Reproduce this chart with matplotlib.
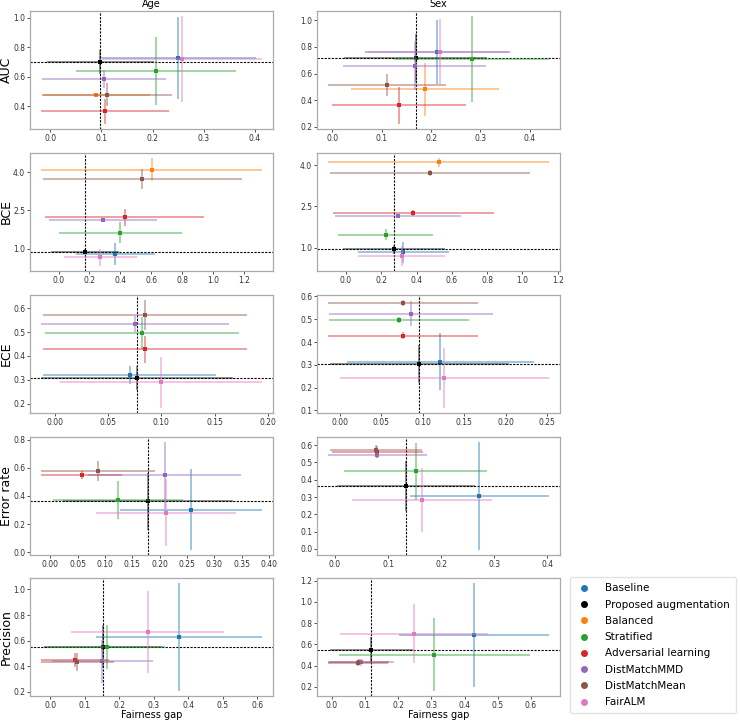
import numpy as np
import matplotlib
matplotlib.use("Agg")
import matplotlib.pyplot as plt
from matplotlib.colors import to_rgba
from matplotlib.lines import Line2D
from matplotlib.ticker import MultipleLocator, FormatStrFormatter

nan = np.nan

methods = ["Baseline", "Proposed augmentation", "Balanced", "Stratified",
           "Adversarial learning", "DistMatchMMD", "DistMatchMean", "FairALM"]
colors = ["tab:blue", "black", "tab:orange", "tab:green",
          "tab:red", "tab:purple", "tab:brown", "tab:pink"]
metrics = ["AUC", "BCE", "ECE", "Error rate", "Precision"]
attributes = ["Age", "Sex"]

# order of values follows `methods`
# gap = fairness gap (x), val = metric value (y)
auc_age_gap = [0.250, 0.098, 0.090, 0.207, 0.107, 0.105, 0.111, 0.258]
auc_age_gap_err = [0.153, 0.105, 0.105, 0.157, 0.125, 0.121, 0.128, 0.156]
auc_age_val = [0.727, 0.702, 0.480, 0.640, 0.367, 0.587, 0.480, 0.718]
auc_age_val_err = [0.280, 0.080, 0.010, 0.228, 0.083, 0.060, 0.080, 0.290]

auc_sex_gap = [0.211, 0.169, 0.188, 0.282, 0.135, 0.167, 0.111, 0.218]
auc_sex_gap_err = [0.146, 0.145, 0.150, 0.157, 0.136, 0.145, 0.120, 0.145]
auc_sex_val = [0.763, 0.714, 0.482, 0.709, 0.363, 0.654, 0.514, 0.765]
auc_sex_val_err = [0.238, 0.180, 0.200, 0.320, 0.138, 0.180, 0.085, 0.245]

bce_age_gap = [0.368, 0.171, 0.602, 0.400, 0.429, 0.286, 0.543, 0.270]
bce_age_gap_err = [0.254, 0.220, 0.715, 0.400, 0.515, 0.350, 0.645, 0.235]
bce_age_val = [0.78, 0.87, 4.09, 1.63, 2.23, 2.13, 3.73, 0.65]
bce_age_val_err = [0.42, 0.10, 0.45, 0.43, 0.34, 0.05, 0.41, 0.32]

bce_sex_gap = [0.324, 0.271, 0.524, 0.224, 0.381, 0.294, 0.476, 0.315]
bce_sex_gap_err = [0.257, 0.290, 0.626, 0.270, 0.455, 0.356, 0.569, 0.245]
bce_sex_val = [0.82, 0.93, 4.10, 1.47, 2.26, 2.14, 3.71, 0.70]
bce_sex_val_err = [0.37, 0.15, 0.15, 0.20, 0.12, 0.05, 0.10, 0.36]

ece_age_gap = [0.0703, 0.0770, nan, 0.0820, 0.0844, 0.0753, 0.0844, 0.0994]
ece_age_gap_err = [0.081, 0.090, nan, 0.091, 0.096, 0.088, 0.096, 0.095]
ece_age_val = [0.320, 0.307, nan, 0.497, 0.427, 0.534, 0.570, 0.290]
ece_age_val_err = [0.038, 0.050, nan, 0.066, 0.055, 0.035, 0.063, 0.107]

ece_sex_gap = [0.121, 0.096, nan, 0.0714, 0.0762, 0.0859, 0.0762, 0.126]
ece_sex_gap_err = [0.1125, 0.108, nan, 0.084, 0.090, 0.099, 0.090, 0.126]
ece_sex_val = [0.314, 0.304, nan, 0.497, 0.428, 0.524, 0.571, 0.242]
ece_sex_val_err = [0.125, 0.085, nan, 0.015, 0.015, 0.055, 0.012, 0.130]

err_age_gap = [0.257, 0.179, nan, 0.123, 0.057, 0.209, 0.087, 0.211]
err_age_gap_err = [0.130, 0.155, nan, 0.119, 0.074, 0.140, 0.104, 0.128]
err_age_val = [0.303, 0.360, nan, 0.370, 0.549, 0.545, 0.575, 0.281]
err_age_val_err = [0.285, 0.200, nan, 0.135, 0.030, 0.235, 0.071, 0.240]

err_sex_gap = [0.272, 0.133, nan, 0.152, 0.080, 0.080, 0.077, 0.164]
err_sex_gap_err = [0.131, 0.130, nan, 0.135, 0.085, 0.093, 0.086, 0.132]
err_sex_val = [0.306, 0.362, nan, 0.448, 0.558, 0.545, 0.571, 0.285]
err_sex_val_err = [0.310, 0.145, nan, 0.167, 0.035, 0.020, 0.030, 0.185]

prec_age_gap = [0.372, 0.153, nan, 0.163, 0.071, 0.150, 0.078, 0.282]
prec_age_gap_err = [0.241, 0.170, nan, 0.170, 0.098, 0.146, 0.105, 0.221]
prec_age_val = [0.628, 0.552, nan, 0.550, 0.445, 0.437, 0.432, 0.669]
prec_age_val_err = [0.420, 0.170, nan, 0.170, 0.055, 0.170, 0.070, 0.320]

prec_sex_gap = [0.429, 0.119, nan, 0.309, 0.081, 0.089, 0.079, 0.248]
prec_sex_gap_err = [0.225, 0.125, nan, 0.287, 0.090, 0.100, 0.090, 0.224]
prec_sex_val = [0.684, 0.545, nan, 0.504, 0.436, 0.430, 0.424, 0.699]
prec_sex_val_err = [0.490, 0.120, nan, 0.340, 0.030, 0.030, 0.030, 0.278]

panels = {
    ("AUC", "Age"): (auc_age_gap, auc_age_gap_err, auc_age_val, auc_age_val_err),
    ("AUC", "Sex"): (auc_sex_gap, auc_sex_gap_err, auc_sex_val, auc_sex_val_err),
    ("BCE", "Age"): (bce_age_gap, bce_age_gap_err, bce_age_val, bce_age_val_err),
    ("BCE", "Sex"): (bce_sex_gap, bce_sex_gap_err, bce_sex_val, bce_sex_val_err),
    ("ECE", "Age"): (ece_age_gap, ece_age_gap_err, ece_age_val, ece_age_val_err),
    ("ECE", "Sex"): (ece_sex_gap, ece_sex_gap_err, ece_sex_val, ece_sex_val_err),
    ("Error rate", "Age"): (err_age_gap, err_age_gap_err, err_age_val, err_age_val_err),
    ("Error rate", "Sex"): (err_sex_gap, err_sex_gap_err, err_sex_val, err_sex_val_err),
    ("Precision", "Age"): (prec_age_gap, prec_age_gap_err, prec_age_val, prec_age_val_err),
    ("Precision", "Sex"): (prec_sex_gap, prec_sex_gap_err, prec_sex_val, prec_sex_val_err),
}

# tick spacing per panel: (x step, y step)
tick_steps = {
    ("AUC", "Age"): (0.1, 0.2), ("AUC", "Sex"): (0.1, 0.2),
    ("BCE", "Age"): (0.2, 1.5), ("BCE", "Sex"): (0.2, 1.5),
    ("ECE", "Age"): (0.05, 0.1), ("ECE", "Sex"): (0.05, 0.1),
    ("Error rate", "Age"): (0.05, 0.2), ("Error rate", "Sex"): (0.1, 0.1),
    ("Precision", "Age"): (0.1, 0.2), ("Precision", "Sex"): (0.1, 0.2),
}

W, H = 740, 721
fig = plt.figure(figsize=(W / 100, H / 100), dpi=100)

col_left = [30, 317]
col_width = 243
row_top = [11, 153, 295, 437, 578]
row_height = 118

for r, metric in enumerate(metrics):
    for c, attr in enumerate(attributes):
        rect = [col_left[c] / W, 1 - (row_top[r] + row_height) / H,
                col_width / W, row_height / H]
        ax = fig.add_axes(rect)
        gap, gap_err, val, val_err = panels[(metric, attr)]
        for i, m in enumerate(methods):
            if np.isnan(gap[i]):
                continue
            ax.errorbar(gap[i], val[i], xerr=gap_err[i], yerr=val_err[i],
                        fmt="none", ecolor=to_rgba(colors[i], 0.55),
                        elinewidth=1.1, capsize=0)
            ax.plot(gap[i], val[i], "s", color=colors[i], ms=2.8, mew=0)
        # reference lines through the proposed augmentation
        ax.axvline(gap[1], color="black", lw=0.8, ls=(0, (2, 1.2)), zorder=0.5)
        ax.axhline(val[1], color="black", lw=0.8, ls=(0, (2, 1.2)), zorder=0.5)

        xstep, ystep = tick_steps[(metric, attr)]
        ax.xaxis.set_major_locator(MultipleLocator(xstep))
        ax.yaxis.set_major_locator(MultipleLocator(ystep, offset=1.0 if metric == "BCE" else 0.0))
        ax.yaxis.set_major_formatter(FormatStrFormatter("%.1f"))
        ax.tick_params(labelsize=5.5, length=2, width=0.6, pad=1.5,
                       colors="#333333")
        for sp in ax.spines.values():
            sp.set_color("#aaaaaa")
            sp.set_linewidth(0.9)
        if r == 0:
            ax.set_title(attr, fontsize=7, pad=3)
        if c == 0:
            ax.set_ylabel(metric, fontsize=9)
            ax.yaxis.set_label_coords((13 - col_left[c]) / col_width, 0.5)
        if r == len(metrics) - 1:
            ax.set_xlabel("Fairness gap", fontsize=7, labelpad=0)

handles = [Line2D([], [], marker="o", ls="none", color=col, ms=4)
           for col in colors]
fig.legend(handles, methods, loc="upper left",
           bbox_to_anchor=(565 / W, 1 - 572 / H), fontsize=7.5,
           frameon=True, edgecolor="#dddddd", borderpad=0.6,
           labelspacing=0.6, handletextpad=1.2, handlelength=1.5)

fig.savefig("out.png", dpi=100)
